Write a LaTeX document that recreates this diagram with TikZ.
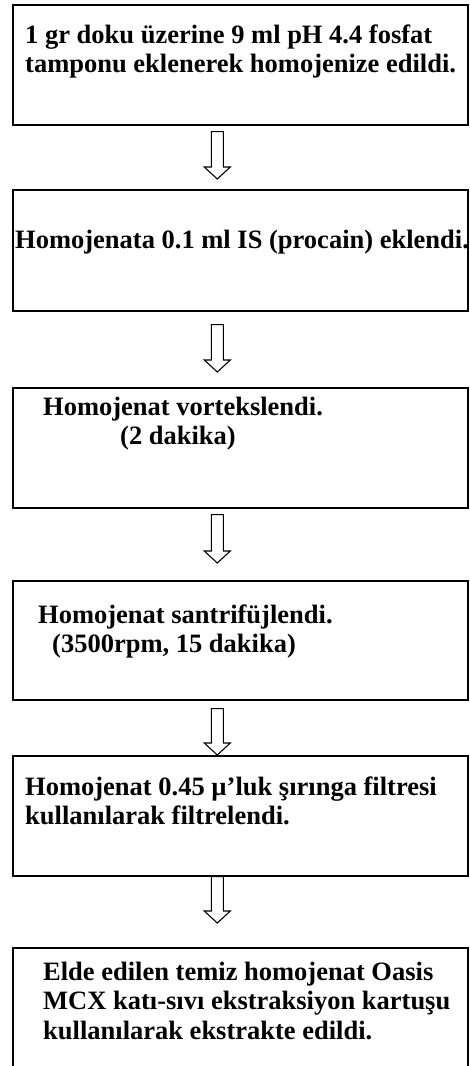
\documentclass[tikz,border=0pt]{standalone}
\usepackage{fontspec}
\setmainfont{Liberation Serif}
\usetikzlibrary{calc}
\newcommand\blockarr[2]{%
  \draw[blockarrow] ($(#1)+(-6,0)$) -- ($(#2)+(-6,-12)$) -- ($(#2)+(-13,-12)$) -- (#2)
    -- ($(#2)+(13,-12)$) -- ($(#2)+(6,-12)$) -- ($(#1)+(6,0)$) -- cycle;}
\begin{document}
\begin{tikzpicture}[x=1pt,y=-1pt,
  stepbox/.style={draw=black,line width=1.6pt,rectangle,inner sep=0pt,minimum width=455pt,anchor=north west},
  steptext/.style={anchor=base west,inner sep=0pt,font=\bfseries\fontsize{26.5}{29.5}\selectfont},
  blockarrow/.style={draw=black,line width=1.1pt,line join=miter,fill=white}]
\useasboundingbox (0,0) rectangle (470,1066);
% boxes
\node[stepbox,minimum height=120pt] (b1) at (12,4) {};
\node[stepbox,minimum height=121pt] (b2) at (12,189) {};
\node[stepbox,minimum height=120pt] (b3) at (12,387) {};
\node[stepbox,minimum height=119pt] (b4) at (12,580) {};
\node[stepbox,minimum height=120pt] (b5) at (12,755) {};
\node[stepbox,minimum height=135pt] (b6) at (12,947) {};
% texts
\node[steptext] (t1) at (25,43) {\vtop{\hbox{1 gr doku üzerine 9 ml pH 4.4 fosfat}\hbox{tamponu eklenerek homojenize edildi.}}};
\node[steptext] (t2) at (15,248) {Homojenata 0.1 ml IS (procain) eklendi.};
\node[steptext] (t3) at (43,415) {\vtop{\hbox{Homojenat vortekslendi.}\hbox{\kern77pt(2 dakika)}}};
\node[steptext] (t4) at (38,623) {\vtop{\hbox{Homojenat santrifüjlendi.}\hbox{\kern14pt(3500rpm, 15 dakika)}}};
\node[steptext] (t5) at (25,795) {\vtop{\hbox{Homojenat 0.45 µ’luk şırınga filtresi}\hbox{kullanılarak filtrelendi.}}};
\node[steptext] (t6) at (43,980) {\vtop{\hbox{Elde edilen temiz homojenat Oasis}\hbox{MCX katı-sıvı ekstraksiyon kartuşu}\hbox{kullanılarak ekstrakte edildi.}}};
% arrows
\coordinate (a1top) at ($(b1.south)+(-23,6)$);
\coordinate (a1tip) at ($(b2.north)+(-23,-10)$);
\coordinate (a2top) at ($(b2.south)+(-23,13)$);
\coordinate (a2tip) at ($(b3.north)+(-23,-15)$);
\coordinate (a3top) at ($(b3.south)+(-23,6)$);
\coordinate (a3tip) at ($(b4.north)+(-23,-17)$);
\coordinate (a4top) at ($(b4.south)+(-23,8)$);
\coordinate (a4tip) at ($(b5.north)+(-23,0)$);
\coordinate (a5top) at ($(b5.south)+(-23,0)$);
\coordinate (a5tip) at ($(b6.north)+(-23,-24)$);
\blockarr{a1top}{a1tip}
\blockarr{a2top}{a2tip}
\blockarr{a3top}{a3tip}
\blockarr{a4top}{a4tip}
\blockarr{a5top}{a5tip}
\end{tikzpicture}
\end{document}
